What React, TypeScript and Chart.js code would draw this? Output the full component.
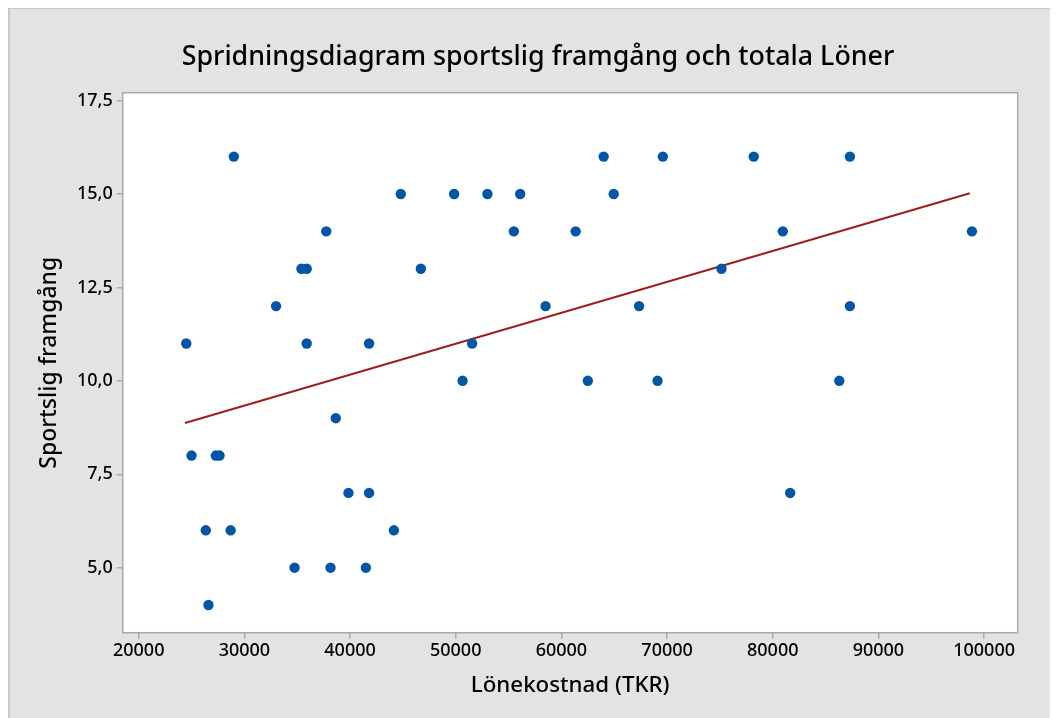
import React, { useEffect, useRef } from 'react';
import { Chart, registerables } from 'chart.js';

Chart.register(...registerables);

// Lönekostnad (TKR) per point
const salaryCost = [
  29000, 64000, 69600, 78200, 87300,
  44800, 49850, 53000, 56100, 64950,
  37750, 55500, 61350, 80950, 98850,
  35400, 35900, 46700, 75150,
  33000, 58500, 67350, 87300,
  24500, 35900, 41800, 51550,
  50650, 62500, 69100, 86300,
  38650,
  25000, 27300, 27650,
  39850, 41800, 81650,
  26350, 28700, 44150,
  34750, 38150, 41500,
  26600,
];

// Sportslig framgång per point
const success = [
  16, 16, 16, 16, 16,
  15, 15, 15, 15, 15,
  14, 14, 14, 14, 14,
  13, 13, 13, 13,
  12, 12, 12, 12,
  11, 11, 11, 11,
  10, 10, 10, 10,
  9,
  8, 8, 8,
  7, 7, 7,
  6, 6, 6,
  5, 5, 5,
  4,
];

// fitted line end points
const fitX = [24380, 98650];
const fitY = [8.87, 15.02];

const xTicks = [20000, 30000, 40000, 50000, 60000, 70000, 80000, 90000, 100000];
const yTicks = [5, 7.5, 10, 12.5, 15, 17.5];

const TITLE = 'Spridningsdiagram sportslig framgång och totala Löner';
const X_TITLE = 'Lönekostnad (TKR)';
const Y_TITLE = 'Sportslig framgång';

const FONT = "'Noto Sans', 'DejaVu Sans', sans-serif";
const W = 1050;
const H = 711;

const bgPlugin = {
  id: 'panelBg',
  beforeDraw(chart: any) {
    const { ctx, chartArea: a } = chart;
    ctx.save();
    ctx.fillStyle = '#e3e3e3';
    ctx.fillRect(0, 0, W, H);
    ctx.strokeStyle = '#c8c8c8';
    ctx.lineWidth = 2;
    ctx.beginPath();
    ctx.moveTo(1, H);
    ctx.lineTo(1, 1);
    ctx.lineTo(W, 1);
    ctx.stroke();
    ctx.fillStyle = '#ffffff';
    ctx.fillRect(a.left, a.top, a.right - a.left, a.bottom - a.top);
    // chart title
    ctx.fillStyle = '#000';
    ctx.font = `500 26.8px ${FONT}`;
    ctx.textAlign = 'center';
    ctx.textBaseline = 'middle';
    ctx.fillText(TITLE, 530, 50);
    ctx.restore();
  },
  afterDraw(chart: any) {
    const { ctx, chartArea: a } = chart;
    ctx.save();
    ctx.strokeStyle = '#a8a8a8';
    ctx.lineWidth = 1.5;
    ctx.strokeRect(a.left, a.top, a.right - a.left, a.bottom - a.top);
    ctx.restore();
  },
};

export default function App() {
  const ref = useRef<HTMLCanvasElement | null>(null);

  useEffect(() => {
    if (!ref.current) return;
    const points = salaryCost.map((x, i) => ({ x, y: success[i] }));
    const line = fitX.map((x, i) => ({ x, y: fitY[i] }));
    const chart = new Chart(ref.current, {
      type: 'scatter',
      data: {
        datasets: [
          {
            type: 'line',
            data: line,
            borderColor: '#a01d1d',
            borderWidth: 2,
            pointRadius: 0,
            fill: false,
            order: 2,
          } as any,
          {
            data: points,
            backgroundColor: '#0455a6',
            borderWidth: 0,
            pointRadius: 5.2,
            order: 1,
          },
        ],
      },
      options: {
        animation: false,
        responsive: false,
        maintainAspectRatio: false,
        layout: { padding: { left: 0, right: 40.3, top: 85.7, bottom: 0 } },
        plugins: {
          legend: { display: false },
          tooltip: { enabled: false },
          title: { display: false },
        },
        scales: {
          x: {
            type: 'linear',
            min: 18486,
            max: 103180,
            afterBuildTicks: (s: any) => {
              s.ticks = xTicks.map((v) => ({ value: v }));
            },
            afterFit: (s: any) => {
              s.height = H - 625.7;
            },
            grid: {
              display: true,
              drawOnChartArea: false,
              drawTicks: true,
              tickLength: 6,
              color: '#a8a8a8',
              lineWidth: 1.5,
            },
            border: { display: false },
            ticks: {
              color: '#000',
              font: { family: FONT, size: 18, weight: '500' },
              padding: 1,
              autoSkip: false,
              maxRotation: 0,
              callback: (v: any) => String(v),
            },
            title: {
              display: true,
              text: X_TITLE,
              color: '#000',
              font: { family: FONT, size: 22.3, weight: '500' },
              padding: { top: 0, bottom: 18.6 },
            },
          },
          y: {
            type: 'linear',
            min: 3.26,
            max: 17.71,
            afterBuildTicks: (s: any) => {
              s.ticks = yTicks.map((v) => ({ value: v }));
            },
            afterFit: (s: any) => {
              s.width = 114.7;
            },
            grid: {
              display: true,
              drawOnChartArea: false,
              drawTicks: true,
              tickLength: 6,
              color: '#a8a8a8',
              lineWidth: 1.5,
            },
            border: { display: false },
            ticks: {
              color: '#000',
              font: { family: FONT, size: 18, weight: '500' },
              padding: 4,
              autoSkip: false,
              callback: (v: any) => Number(v).toFixed(1).replace('.', ','),
            },
            title: {
              display: true,
              text: Y_TITLE,
              color: '#000',
              font: { family: FONT, size: 23, weight: '500' },
              padding: { top: 27.2, bottom: 0 },
            },
          },
        },
      },
      plugins: [bgPlugin],
    });
    return () => chart.destroy();
  }, []);

  return (
    <div style={{ position: 'relative', top: -1, width: W, height: H }}>
      <canvas ref={ref} width={W} height={H} style={{ display: 'block', width: W, height: H }} />
    </div>
  );
}
